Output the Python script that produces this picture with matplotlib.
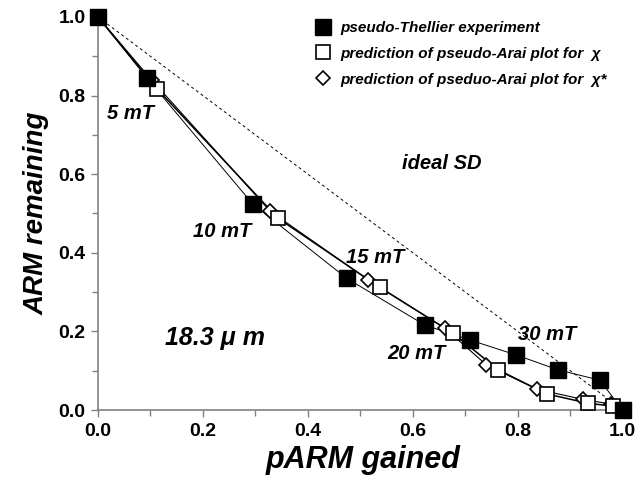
import matplotlib as mpl
from matplotlib import pyplot as plt
from matplotlib.ticker import MultipleLocator

mpl.rcParams["font.family"] = ["Liberation Sans", "DejaVu Sans"]
mpl.rcParams["font.weight"] = "bold"

# pseudo-Thellier experiment (filled squares)
exp_x = [0.0, 0.093, 0.295, 0.474, 0.623, 0.709, 0.797, 0.877, 0.956, 1.0]
exp_y = [1.0, 0.845, 0.524, 0.335, 0.216, 0.178, 0.140, 0.102, 0.076, 0.0]

# prediction for chi (open squares)
chi_x = [0.0, 0.112, 0.343, 0.537, 0.677, 0.763, 0.855, 0.934, 0.981, 1.0]
chi_y = [1.0, 0.818, 0.488, 0.312, 0.195, 0.102, 0.041, 0.017, 0.010, 0.0]

# prediction for chi* (open diamonds)
chis_x = [0.0, 0.102, 0.328, 0.515, 0.661, 0.740, 0.836, 0.924, 0.978, 1.0]
chis_y = [1.0, 0.840, 0.506, 0.331, 0.208, 0.115, 0.053, 0.027, 0.015, 0.0]

ideal_x = [0.0, 1.0]
ideal_y = [1.0, 0.0]

field_labels = ["5 mT", "10 mT", "15 mT", "20 mT", "30 mT"]
field_pos = [(0.061, 0.755), (0.236, 0.453), (0.528, 0.387), (0.607, 0.145), (0.855, 0.191)]

fig = plt.figure(figsize=(6.4, 4.94), dpi=100)
ax = fig.add_axes([98/640, 84/494, 530/640, 393/494])

ax.plot(ideal_x, ideal_y, color='k', lw=0.7, ls=(0, (3, 3)))
ax.plot(chis_x, chis_y, color='k', lw=0.8, zorder=2)
ax.plot(chi_x, chi_y, color='k', lw=1.1, zorder=2)
ax.plot(exp_x, exp_y, color='k', lw=0.7, zorder=2)

ax.plot(chis_x, chis_y, ls='none', marker='D', ms=7, mfc='white', mec='k', mew=1.2,
        zorder=3, clip_on=False, label="prediction of pseduo-Arai plot for  χ*")
ax.plot(chi_x, chi_y, ls='none', marker='s', ms=10, mfc='white', mec='k', mew=1.2,
        zorder=4, clip_on=False, label="prediction of pseudo-Arai plot for  χ")
ax.plot(exp_x, exp_y, ls='none', marker='s', ms=11, mfc='k', mec='k',
        zorder=5, clip_on=False, label="pseudo-Thellier experiment")

h, l = ax.get_legend_handles_labels()
leg = ax.legend(h[::-1], l[::-1], loc='upper left', bbox_to_anchor=(0.385, 1.025),
                frameon=False, handlelength=1.0, handletextpad=0.6, labelspacing=0.78,
                prop=dict(size=11, weight='bold', style='italic'))

for lab, (x, y) in zip(field_labels, field_pos):
    ax.text(x, y, lab, ha='center', va='center', fontsize=14.5, fontweight='bold', style='italic')
ax.text(0.655, 0.628, "ideal SD", ha='center', va='center', fontsize=14.5, fontweight='bold', style='italic')
ax.text(0.223, 0.183, "18.3 μ m", ha='center', va='center', fontsize=18, fontweight='bold', style='italic')

ax.set_xlim(0, 1.01)
ax.set_ylim(0, 1.0)
ax.xaxis.set_major_locator(MultipleLocator(0.2))
ax.xaxis.set_minor_locator(MultipleLocator(0.1))
ax.yaxis.set_major_locator(MultipleLocator(0.2))
ax.yaxis.set_minor_locator(MultipleLocator(0.1))
ax.set_xticks([0, 0.2, 0.4, 0.6, 0.8, 1.0])
ax.set_xticklabels(["0.0", "0.2", "0.4", "0.6", "0.8", "1.0"])
ax.set_yticks([0, 0.2, 0.4, 0.6, 0.8, 1.0])
ax.set_yticklabels(["0.0", "0.2", "0.4", "0.6", "0.8", "1.0"])

for s in ['top', 'right']:
    ax.spines[s].set_visible(False)
for s in ['left', 'bottom']:
    ax.spines[s].set_color('#808080')
    ax.spines[s].set_linewidth(1.2)
ax.tick_params(which='both', direction='out', color='#808080', width=1.0)
ax.tick_params(which='major', length=5, labelsize=14, pad=4)
ax.tick_params(which='minor', length=4)
for t in ax.get_xticklabels() + ax.get_yticklabels():
    t.set_fontweight('bold')

ax.set_xlabel("pARM gained", fontsize=22, fontweight='bold', style='italic', labelpad=4)
ax.set_ylabel("ARM remaining", fontsize=20, fontweight='bold', style='italic', labelpad=6)

fig.savefig('out.png', dpi=100)
